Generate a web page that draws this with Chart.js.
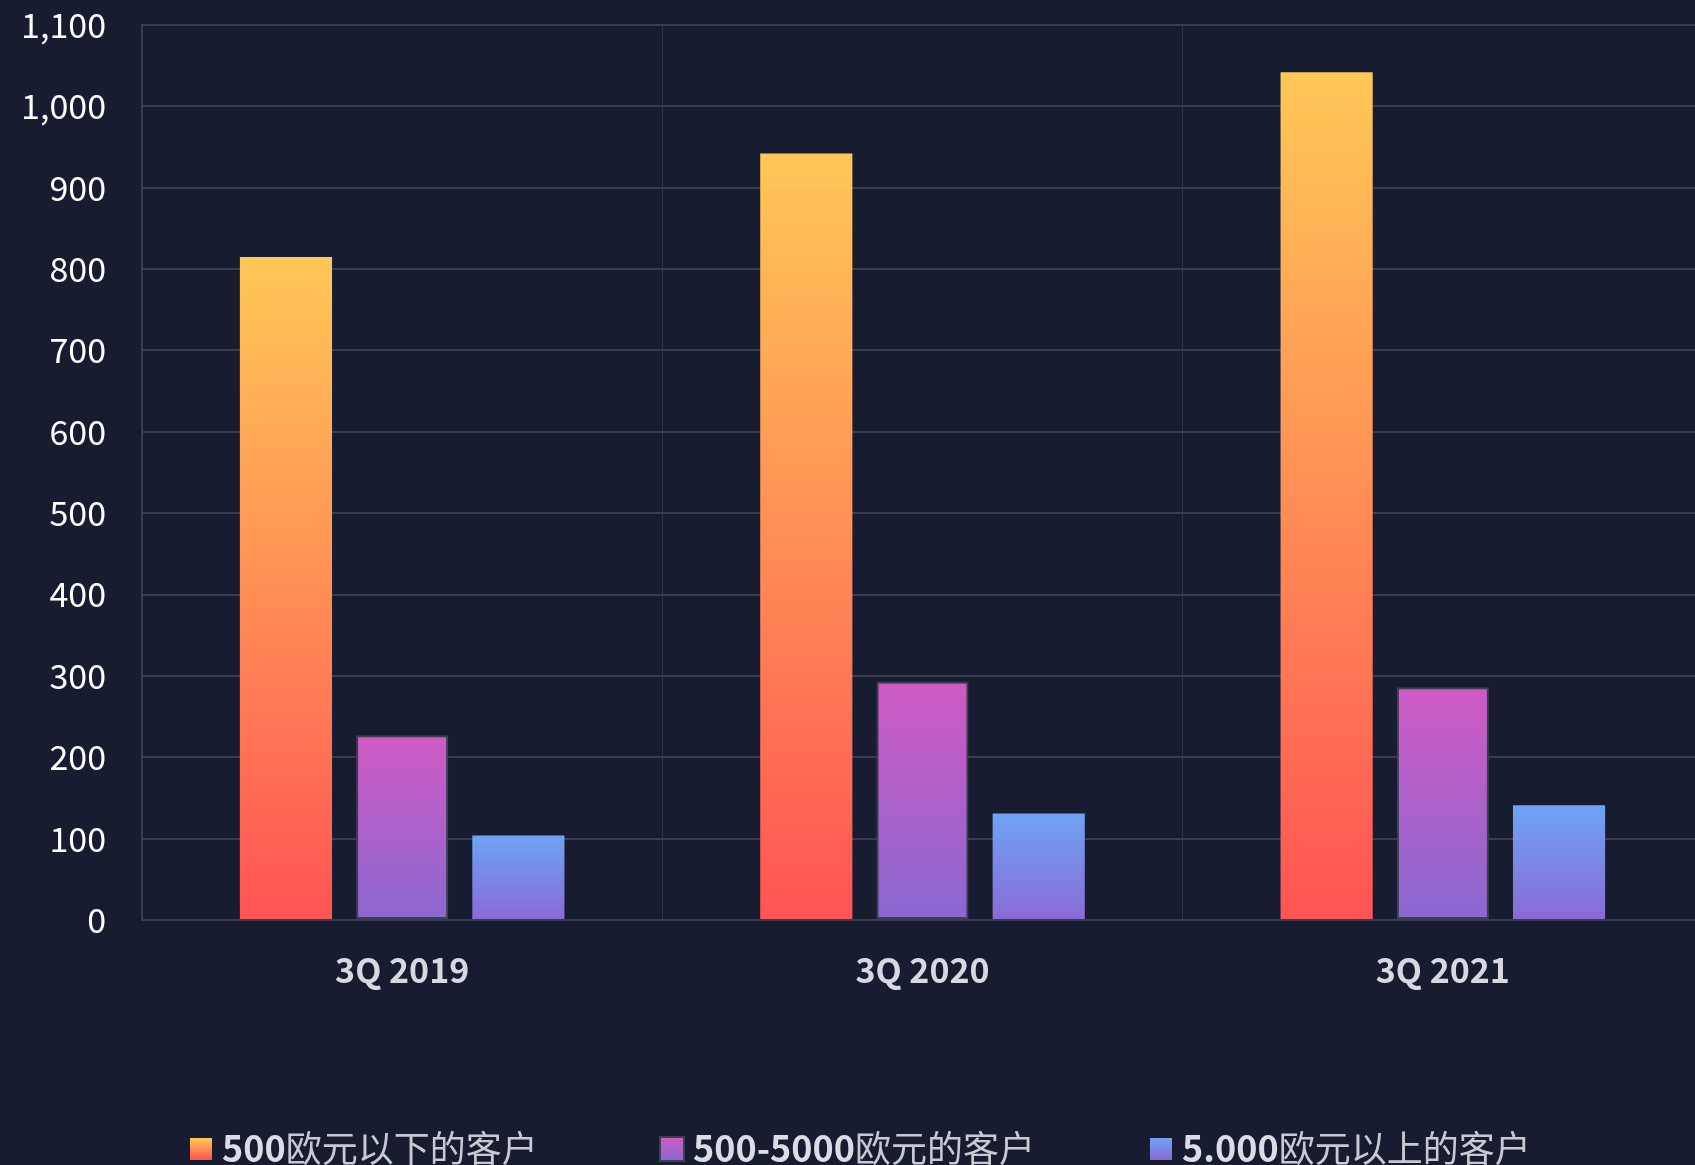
<!DOCTYPE html>
<html>
<head>
<meta charset="utf-8">
<script src="https://cdn.jsdelivr.net/npm/chart.js@4"></script>
<style>
  html, body { margin: 0; padding: 0; background: #181c30; overflow: hidden; }
  #wrap { position: relative; width: 1695px; height: 1165px; overflow: hidden; }
  #c { position: absolute; left: 0; top: 0; }
  #legend { position: absolute; left: 0; top: 1124px; width: 1695px; height: 45px;
            font-family: "Noto Sans CJK SC", "Noto Sans", sans-serif; font-size: 36px; line-height: 45px; }
  .item { position: absolute; top: 0; white-space: nowrap; color: #c9c9d3; }
  .item .box { display: inline-block; width: 22px; height: 22px; vertical-align: middle; margin-right: 10px; position: relative; top: -3px; }
  .item b { color: #dcdce6; font-weight: 700; }
</style>
</head>
<body>
<div id="wrap">
  <canvas id="c" width="1703" height="1165"></canvas>
  <div id="legend"></div>
</div>
<script>
const categories = ["3Q 2019", "3Q 2020", "3Q 2021"];
const seriesNames = ["500欧元以下的客户", "500-5000欧元的客户", "5.000欧元以上的客户"];
const legendBold = ["500", "500-5000", "5.000"];
const legendRest = ["欧元以下的客户", "欧元的客户", "欧元以上的客户"];
const under500 = [815, 942, 1042];
const between500and5000 = [227, 293, 286];
const over5000 = [104, 131, 141];
const yTicks = [0, 100, 200, 300, 400, 500, 600, 700, 800, 900, 1000, 1100];

const gradStops = [
  ["#ffc857", "#ff5454"],
  ["#d05ac4", "#8a68d0"],
  ["#6ea3f5", "#8a6ad6"]
];

function barGradient(ctx, stops) {
  const chart = ctx.chart;
  if (!chart.chartArea || !chart.scales.y) return stops[0];
  const y = chart.scales.y;
  const top = y.getPixelForValue(ctx.raw);
  const bottom = y.getPixelForValue(0);
  if (!isFinite(top) || !isFinite(bottom) || top === bottom) return stops[0];
  const g = chart.ctx.createLinearGradient(0, bottom, 0, top);
  g.addColorStop(0, stops[1]);
  g.addColorStop(1, stops[0]);
  return g;
}

const seriesData = [under500, between500and5000, over5000];
const datasets = seriesData.map((d, i) => ({
  label: seriesNames[i],
  data: d,
  backgroundColor: (ctx) => barGradient(ctx, gradStops[i]),
  borderColor: i === 1 ? "#394152" : "rgba(0,0,0,0)",
  borderWidth: i === 1 ? 2 : 0,
  borderSkipped: false,
  categoryPercentage: 0.67,
  barPercentage: 0.793
}));

const ctx = document.getElementById("c").getContext("2d");
new Chart(ctx, {
  type: "bar",
  data: { labels: categories, datasets },
  options: {
    responsive: false,
    animation: false,
    layout: { padding: { left: 24, right: 0, top: 25, bottom: 170 } },
    plugins: { legend: { display: false }, tooltip: { enabled: false } },
    scales: {
      x: {
        grid: { color: "#2f3144", lineWidth: 1, drawTicks: false },
        border: { color: "#3a3b4e", width: 2 },
        afterFit: (axis) => { axis.height = 75; axis.paddingLeft = 0; axis.paddingRight = 0; },
        ticks: {
          color: "#d8d8e2",
          padding: 30,
          font: { family: "'Noto Sans CJK SC', 'Noto Sans', sans-serif", size: 34, weight: "bold" }
        }
      },
      y: {
        min: 0, max: 1100,
        afterBuildTicks: (axis) => { axis.ticks = yTicks.map(v => ({ value: v })); },
        afterFit: (axis) => { axis.width = 118; axis.paddingTop = 0; axis.paddingBottom = 0; },
        grid: { color: "#3a3b4f", lineWidth: 2, drawTicks: false },
        border: { color: "#3a3b4e", width: 2 },
        ticks: {
          color: "#ffffff",
          padding: 36,
          font: { family: "'Noto Sans CJK SC', 'Noto Sans', sans-serif", size: 34 },
          callback: (v) => v.toLocaleString("en-US")
        }
      }
    }
  }
});

const legendLeft = [190, 661, 1150];
const legend = document.getElementById("legend");
seriesNames.forEach((name, i) => {
  const it = document.createElement("div");
  it.className = "item";
  it.style.left = legendLeft[i] + "px";
  const box = document.createElement("span");
  box.className = "box";
  box.style.background = "linear-gradient(to bottom, " + gradStops[i][0] + ", " + gradStops[i][1] + ")";
  if (i === 1) box.style.outline = "2px solid #394152";
  it.appendChild(box);
  const b = document.createElement("b");
  b.textContent = legendBold[i];
  it.appendChild(b);
  it.appendChild(document.createTextNode(legendRest[i]));
  legend.appendChild(it);
});
</script>
</body>
</html>
